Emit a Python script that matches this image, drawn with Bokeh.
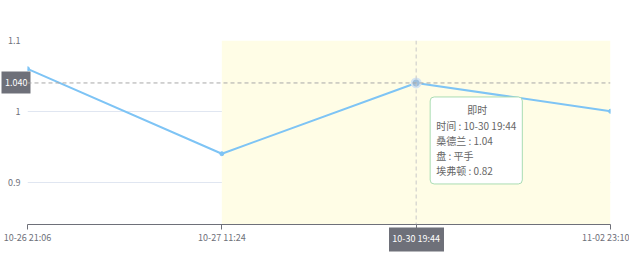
from bokeh.plotting import figure
from bokeh.models import (Range1d, FixedTicker, Span, Label, LinearAxis,
                          NumeralTickFormatter)
from bokeh.embed import file_html
from bokeh.resources import INLINE

# Odds timeline (category axis, one point per update)
times = ["10-26 21:06", "10-27 11:24", "10-30 19:44", "11-02 23:10"]
home_odds = [1.06, 0.94, 1.04, 1.00]          # 桑德兰
y_ticks = [0.9, 1.0, 1.1]
y_min, y_max = 0.84, 1.1

# Highlighted (in-play) stretch, by category index
shade_start, shade_end = 1, 3

# Focused point and its details
focus_idx = 2
focus_title = "即时"
focus_handicap = "平手"
focus_away = 0.82                              # 埃弗顿

FONT = "Noto Sans CJK SC"
AXIS_GREY = "#6e7079"
LINE_BLUE = "#7ec4f5"

xs = list(range(len(times)))

p = figure(width=629, height=269, output_backend="svg", toolbar_location=None,
           x_range=Range1d(0, len(times) - 1), y_range=Range1d(y_min, y_max),
           min_border_left=27, min_border_right=19, min_border_top=40,
           min_border_bottom=45)
p.outline_line_color = None
p.background_fill_color = "white"
p.border_fill_color = "white"

# y axis: labels only, light horizontal grid
p.yaxis.ticker = FixedTicker(ticks=y_ticks)
p.yaxis.formatter = NumeralTickFormatter(format="0.[0]")
p.yaxis.axis_line_color = None
p.yaxis.major_tick_line_color = None
p.yaxis.minor_tick_line_color = None
p.yaxis.major_tick_out = 0
p.yaxis.major_tick_in = 0
p.yaxis.minor_tick_out = 0
p.yaxis.minor_tick_in = 0
p.yaxis.major_label_text_color = AXIS_GREY
p.yaxis.major_label_text_font = FONT
p.yaxis.major_label_text_font_size = "9px"
p.yaxis.major_label_standoff = 7
p.ygrid.ticker = FixedTicker(ticks=y_ticks)
p.ygrid.grid_line_color = "#e0e6f1"
p.xgrid.grid_line_color = None

# x axis: one tick per category
p.xaxis.ticker = FixedTicker(ticks=xs)
p.xaxis.major_label_overrides = {i: t for i, t in zip(xs, times)}
p.xaxis.axis_line_color = AXIS_GREY
p.xaxis.major_tick_line_color = AXIS_GREY
p.xaxis.major_tick_out = 5
p.xaxis.major_tick_in = 0
p.xaxis.minor_tick_out = 0
p.xaxis.minor_tick_in = 0
p.xaxis.minor_tick_line_color = None
p.xaxis.major_label_text_color = AXIS_GREY
p.xaxis.major_label_text_font = FONT
p.xaxis.major_label_text_font_size = "9px"
p.xaxis.major_label_standoff = 1

# shaded area
p.quad(left=[shade_start], right=[shade_end], bottom=[y_min], top=[y_max],
       fill_color="#fffde6", line_color=None)

# odds line
p.line(xs, home_odds, line_color=LINE_BLUE, line_width=2)
p.scatter(xs, home_odds, size=4, fill_color=LINE_BLUE, line_color=LINE_BLUE)

# crosshair on focused point
fx, fy = xs[focus_idx], home_odds[focus_idx]
p.add_layout(Span(location=fx, dimension="height", line_color="#c8c8c8",
                  line_dash="4 3", line_width=1))
p.add_layout(Span(location=fy, dimension="width", line_color="#a8a8a8",
                  line_dash="4 3", line_width=1))
p.scatter([fx], [fy], size=9, fill_color="#9dbfdc", line_color="#d4e4f2",
          line_width=2)

# axis pointer badges: a single thick tick acts as the badge background
ptr_y = LinearAxis(ticker=FixedTicker(ticks=[fy]),
                   formatter=NumeralTickFormatter(format="0.000"))
ptr_y.axis_line_color = None
ptr_y.major_tick_line_color = AXIS_GREY
ptr_y.major_tick_line_width = 22
ptr_y.major_tick_out = 4
ptr_y.major_tick_in = 25
ptr_y.minor_tick_out = 0
ptr_y.minor_tick_in = 0
ptr_y.minor_tick_line_color = None
ptr_y.major_label_standoff = -26
ptr_y.major_label_text_color = "white"
ptr_y.major_label_text_font = FONT
ptr_y.major_label_text_font_size = "9px"
p.add_layout(ptr_y, "left")

ptr_x = LinearAxis(ticker=FixedTicker(ticks=[fx]),
                   major_label_overrides={fx: times[focus_idx]})
ptr_x.axis_line_color = None
ptr_x.major_tick_line_color = AXIS_GREY
ptr_x.major_tick_line_width = 55
ptr_x.major_tick_out = 5
ptr_x.major_tick_in = 19
ptr_x.minor_tick_out = 0
ptr_x.minor_tick_in = 0
ptr_x.minor_tick_line_color = None
ptr_x.major_label_standoff = -20
ptr_x.major_label_text_color = "white"
ptr_x.major_label_text_font = FONT
ptr_x.major_label_text_font_size = "9px"
p.add_layout(ptr_x, "below")

# tooltip box
body = "\n".join([
    " ",
    f"时间 : {times[focus_idx]}",
    f"桑德兰 : {fy:.2f}",
    f"盘 : {focus_handicap}",
    f"埃弗顿 : {focus_away:.2f}",
])
p.add_layout(Label(x=fx, y=fy, x_offset=14, y_offset=-14, text=body,
                   text_align="left", text_baseline="top",
                   text_font=FONT, text_font_size="10px", text_color="#666666",
                   text_line_height=1.0,
                   background_fill_color="white", border_line_color="#a9dcb2",
                   border_line_width=1, border_radius=4, padding=6))
p.add_layout(Label(x=fx, y=fy, x_offset=61, y_offset=-27, text=focus_title,
                   text_align="center", text_baseline="middle",
                   text_font=FONT, text_font_size="10px", text_color="#666666"))

open("out.html", "w").write(file_html(p, INLINE))
